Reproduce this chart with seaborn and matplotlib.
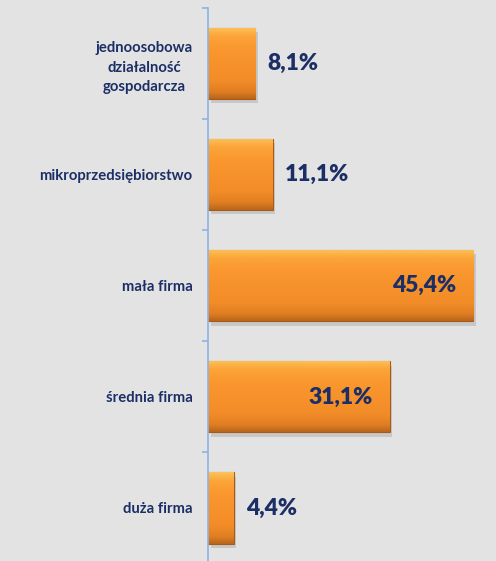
import numpy as np
import pandas as pd
import matplotlib
matplotlib.use('Agg')
import matplotlib.pyplot as plt
import matplotlib.patheffects as pe
from matplotlib.colors import LinearSegmentedColormap
import seaborn as sns

# data
categories = ['jednoosobowa\ndziałalność\ngospodarcza', 'mikroprzedsiębiorstwo',
              'mała firma', 'średnia firma', 'duża firma']
values = [8.1, 11.1, 45.4, 31.1, 4.4]
labels = ['8,1%', '11,1%', '45,4%', '31,1%', '4,4%']

df = pd.DataFrame({'kategoria': categories, 'udzial': values})

sns.set_style('white')
plt.rcParams['font.family'] = ['Lato', 'DejaVu Sans']

bg = '#e3e3e3'
navy = '#1b2f66'

fig = plt.figure(figsize=(4.96, 5.61), dpi=100, facecolor=bg)
ax = fig.add_axes([0.419, -0.0045, 0.581, 0.990])
ax.set_facecolor(bg)

sns.barplot(data=df, y='kategoria', x='udzial', orient='h', color='#f78e26',
            saturation=1, width=0.64, edgecolor='#a85a18', linewidth=0.8, ax=ax)

# bevel-like vertical gradient on every bar
grad = LinearSegmentedColormap.from_list(
    'bar', [(0, '#fcc25a'), (0.12, '#fca53a'), (0.3, '#fa972e'), (0.75, '#f28c28'),
            (0.9, '#e07e22'), (1, '#b8661c')])
g = np.linspace(0, 1, 128).reshape(-1, 1)
for bar in ax.patches:
    bar.set_path_effects([pe.SimplePatchShadow(offset=(2, -3), shadow_rgbFace='#8a8a8a', alpha=0.3),
                          pe.Normal()])
    x0, y0, w, h = bar.get_x(), bar.get_y(), bar.get_width(), bar.get_height()
    im = ax.imshow(g, cmap=grad, extent=(x0, x0 + w, y0 + h, y0), aspect='auto',
                   origin='upper', zorder=bar.get_zorder() + 0.1)
    im.set_clip_path(bar)
    bar.set_facecolor('none')
ax.set_xlim(0, 49.3)
ax.set_ylim(len(categories) - 0.5, -0.5)

# value labels
for i, (v, lab) in enumerate(zip(values, labels)):
    if v > 25:
        ax.annotate(lab, (v, i), xytext=(-12, 0), textcoords='offset points',
                    ha='right', va='center', fontsize=16.5, fontweight='heavy', color=navy, zorder=5)
    else:
        ax.annotate(lab, (v, i), xytext=(9, 0), textcoords='offset points',
                    ha='left', va='center', fontsize=16.5, fontweight='heavy', color=navy, zorder=5)

# axes styling
for s in ['top', 'right', 'bottom']:
    ax.spines[s].set_visible(False)
ax.spines['left'].set_color('#8db3e2')
ax.spines['left'].set_linewidth(1.2)
ax.set_xticks([])
ax.set_xlabel('')
ax.set_ylabel('')
ax.tick_params(axis='y', which='major', length=0, pad=11)
ax.set_yticks(np.arange(len(categories) + 1) - 0.5, minor=True)
ax.tick_params(axis='y', which='minor', left=True, length=4, width=1.2, color='#8db3e2', direction='out')
for t in ax.get_yticklabels():
    t.set_fontsize(10.7)
    t.set_fontweight('bold')
    t.set_color(navy)
    t.set_multialignment('center')
    t.set_linespacing(1.5)

fig.savefig('out.png', dpi=100, facecolor=bg)
